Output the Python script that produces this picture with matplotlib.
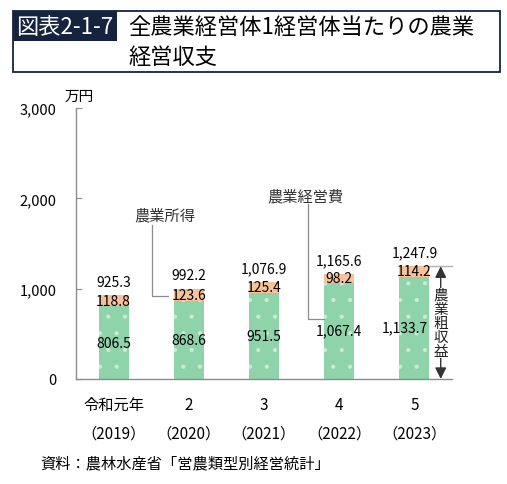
import matplotlib.pyplot as plt
import matplotlib.patches as mpatches
from matplotlib.transforms import blended_transform_factory
import numpy as np

plt.rcParams['font.family'] = ['Noto Sans CJK JP', 'DejaVu Sans']

# data (万円)
years_jp = ["令和元年", "2", "3", "4", "5"]
years_ad = ["（2019）", "（2020）", "（2021）", "（2022）", "（2023）"]
keieihi = [806.5, 868.6, 951.5, 1067.4, 1133.7]   # 農業経営費
shotoku = [118.8, 123.6, 125.4, 98.2, 114.2]      # 農業所得
soshueki = [925.3, 992.2, 1076.9, 1165.6, 1247.9]  # 農業粗収益

green = '#8fd3ab'
orange = '#f7c29a'
navy = '#15233f'
gray = '#8c8c8c'

fig = plt.figure(figsize=(5.07, 4.85), dpi=100)
W, H = 507, 485
ax = fig.add_axes([76 / W, (H - 380) / H, (452 - 76) / W, (380 - 109) / H])

x = np.arange(len(years_jp))
bw = 0.4
plt.rcParams['hatch.linewidth'] = 0.6
ax.bar(x, keieihi, bw, color=green, edgecolor='#c8ecd6', linewidth=0, hatch='.')
ax.bar(x, shotoku, bw, bottom=keieihi, color=orange, linewidth=0)

for i in x:
    # last green label is nudged left so it clears the arrow text
    dx = -7 if i == len(x) - 1 else 0
    ax.annotate(f"{keieihi[i]:,.1f}", (i, keieihi[i] / 2), xytext=(dx, 0), textcoords='offset points',
                ha='center', va='center', fontsize=10)
    ax.text(i, keieihi[i] + shotoku[i] / 2, f"{shotoku[i]:,.1f}", ha='center', va='center', fontsize=10)
    ax.annotate(f"{soshueki[i]:,.1f}", (i, soshueki[i]), xytext=(0, 10), textcoords='offset points',
                ha='center', va='center', fontsize=10)

ax.set_xlim(-0.5, 4.5)
ax.set_ylim(0, 3000)
ax.set_yticks([0, 1000, 2000, 3000])
ax.set_yticklabels(["0", "1,000", "2,000", "3,000"], fontsize=10.5)
ax.tick_params(axis='y', direction='in', length=4, color=gray, pad=14)
ax.set_xticks([])
for s in ['top', 'right']:
    ax.spines[s].set_visible(False)
for s in ['left', 'bottom']:
    ax.spines[s].set_color(gray)
    ax.spines[s].set_linewidth(1.0)

ax.text(-0.65, 3060, "万円", fontsize=10.5, ha='left', va='bottom')

# category labels
tr = blended_transform_factory(ax.transData, ax.transAxes)
for i in x:
    ax.text(i, -0.095, years_jp[i], transform=tr, ha='center', va='center', fontsize=11)
    ax.text(i, -0.198, years_ad[i], transform=tr, ha='center', va='center', fontsize=11)

# leader lines
ax.text(0.68, 1816, "農業所得", ha='center', va='center', fontsize=11, color='#333333')
ax.plot([0.51, 0.51, 0.72], [1700, 920, 920], color=gray, lw=0.9)
ax.text(2.55, 2027, "農業経営費", ha='center', va='center', fontsize=11, color='#333333')
ax.plot([2.58, 2.58, 2.8], [1935, 664, 664], color=gray, lw=0.9)

# 農業粗収益 arrow
ax.plot([4.2, 4.5], [soshueki[4], soshueki[4]], color='#b0b0b0', lw=1, clip_on=False)
ax.annotate("", xy=(4.35, 0), xytext=(4.35, soshueki[4]),
            arrowprops=dict(arrowstyle='<|-|>', color='#333333', lw=1, mutation_scale=17,
                            shrinkA=0, shrinkB=0), annotation_clip=False)
ax.text(4.35, soshueki[4] / 2, "\n".join("農業粗収益"), ha='center', va='center', fontsize=10.5,
        linespacing=1.0, color='#222222',
        bbox=dict(facecolor='white', edgecolor='none', pad=0))

# title frame
fig.patches.append(mpatches.Rectangle((13 / W, 1 - 73 / H), 487 / W, 61 / H, transform=fig.transFigure,
                                      fill=False, edgecolor=navy, linewidth=1.3))
fig.patches.append(mpatches.Rectangle((13 / W, 1 - 42 / H), 104 / W, 30 / H, transform=fig.transFigure,
                                      facecolor=navy, edgecolor='none'))
fig.text(65 / W, 1 - 27 / H, "図表2-1-7", color='white', fontsize=16, ha='center', va='center')
fig.text(128 / W, 1 - 27 / H, "全農業経営体1経営体当たりの農業", fontsize=16, ha='left', va='center')
fig.text(128 / W, 1 - 57 / H, "経営収支", fontsize=16, ha='left', va='center')

fig.text(40 / W, 1 - 464 / H, "資料：農林水産省「営農類型別経営統計」", fontsize=11, ha='left', va='center')

fig.savefig("out.png", dpi=100)
